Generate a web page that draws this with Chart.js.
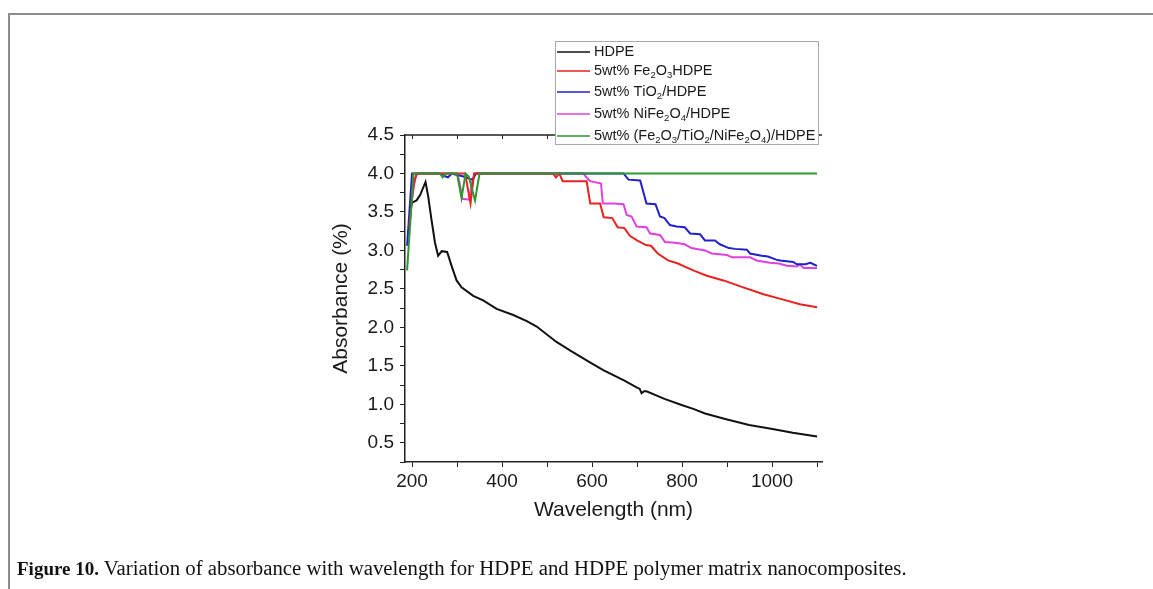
<!DOCTYPE html>
<html>
<head>
<meta charset="utf-8">
<script src="https://cdn.jsdelivr.net/npm/chart.js@4.4.1/dist/chart.umd.min.js"></script>
<style>
  html, body { margin: 0; padding: 0; background: #fff; }
  #wrap { position: absolute; left: 0; top: 0; width: 1153px; height: 589px; }
  #frame { position: absolute; left: 8px; top: 13px; width: 1145px; height: 576px;
           border-top: 2px solid #8c8c8c; border-left: 2px solid #8c8c8c; pointer-events: none; }
  #caption { position: absolute; left: 17px; top: 556px; font: 20.8px "Liberation Serif", "Times New Roman", serif;
             color: #111; white-space: nowrap; line-height: 24px; }
  #caption b { font-size: 19px; }
</style>
</head>
<body>
<div id="frame"></div>
<div id="wrap"><canvas id="absChart"></canvas></div>
<div id="caption"><b>Figure 10.</b> Variation of absorbance with wavelength for HDPE and HDPE polymer matrix nanocomposites.</div>
<script>
// tick positions and labels
const wavelengthTicks = [200, 300, 400, 500, 600, 700, 800, 900, 1000, 1100];
const wavelengthLabels = [200, 400, 600, 800, 1000];
const absorbanceTicks = [0.25, 0.5, 0.75, 1, 1.25, 1.5, 1.75, 2, 2.25, 2.5, 2.75, 3, 3.25, 3.5, 3.75, 4, 4.25, 4.5];
const absorbanceLabels = [0.5, 1, 1.5, 2, 2.5, 3, 3.5, 4, 4.5];

const seriesNames = ['HDPE', '5wt% Fe₂O₃HDPE', '5wt% TiO₂/HDPE', '5wt% NiFe₂O₄/HDPE', '5wt% (Fe₂O₃/TiO₂/NiFe₂O₄)/HDPE'];

// [wavelength nm, absorbance]
const hdpe = [
    [197, 3.55], [200, 3.62], [210, 3.65], [218, 3.72], [230, 3.89], [236, 3.70], [243, 3.41], [251, 3.10],
    [258, 2.93], [266, 2.99], [278, 2.98], [289, 2.78], [299, 2.61], [310, 2.52], [336, 2.41], [358, 2.35],
    [388, 2.24], [425, 2.16], [455, 2.08], [477, 2.01], [521, 1.81], [551, 1.70], [600, 1.53], [626, 1.44],
    [671, 1.31], [699, 1.22], [706, 1.20], [710, 1.145], [716, 1.17], [721, 1.17], [761, 1.07], [799, 0.99],
    [825, 0.94], [851, 0.88], [896, 0.81], [949, 0.73], [1001, 0.68], [1046, 0.63], [1100, 0.58]
];
const fe2o3 = [
    [194, 3.30], [203, 3.85], [210, 4.0], [318, 4.0], [330, 3.61], [338, 4.0], [513, 4.0], [520, 3.95],
    [527, 4.0], [535, 3.90], [588, 3.90], [596, 3.61], [618, 3.61], [626, 3.43], [645, 3.42], [657, 3.30],
    [672, 3.29], [684, 3.19], [700, 3.13], [720, 3.07], [731, 3.06], [746, 2.96], [769, 2.87], [791, 2.83],
    [806, 2.79], [829, 2.73], [855, 2.67], [892, 2.61], [936, 2.52], [981, 2.43], [1025, 2.36], [1062, 2.30],
    [1100, 2.26]
];
const tio2 = [
    [189, 3.06], [200, 4.0], [262, 4.0], [270, 3.97], [280, 3.95], [288, 4.0], [300, 3.98], [315, 3.96],
    [329, 3.93], [335, 3.92], [342, 4.0], [670, 4.0], [681, 3.92], [707, 3.91], [721, 3.61], [741, 3.60],
    [751, 3.44], [761, 3.42], [773, 3.33], [788, 3.31], [806, 3.30], [818, 3.22], [840, 3.21], [851, 3.13],
    [873, 3.13], [884, 3.08], [904, 3.03], [918, 3.02], [944, 3.01], [951, 2.96], [977, 2.93], [991, 2.92],
    [1009, 2.88], [1018, 2.87], [1047, 2.85], [1055, 2.82], [1074, 2.82], [1085, 2.84], [1092, 2.82], [1100, 2.80]
];
const nife2o4 = [
    [192, 3.20], [198, 3.60], [207, 3.93], [212, 4.0], [300, 4.0], [305, 3.90], [312, 3.67], [327, 3.66],
    [333, 3.88], [339, 4.0], [581, 4.0], [586, 3.96], [596, 3.90], [620, 3.87], [624, 3.61], [649, 3.61],
    [670, 3.60], [677, 3.46], [688, 3.44], [699, 3.31], [721, 3.30], [729, 3.22], [751, 3.20], [762, 3.11],
    [784, 3.10], [806, 3.08], [821, 3.03], [851, 3.00], [866, 2.96], [900, 2.94], [911, 2.91], [951, 2.91],
    [966, 2.87], [995, 2.84], [1015, 2.83], [1033, 2.80], [1055, 2.79], [1062, 2.82], [1070, 2.77], [1100, 2.77]
];
const mixed = [
    [189, 2.74], [196, 3.35], [203, 4.0], [262, 4.0], [268, 3.95], [275, 4.0], [300, 4.0], [310, 3.68],
    [319, 4.0], [326, 3.96], [340, 3.65], [350, 4.0], [1100, 4.0]
];

const seriesColors = ['#111111', '#e8221e', '#2020cc', '#e040e0', '#2e972e'];

const toPoints = arr => arr.map(([x, y]) => ({ x: x, y: y }));

// draws a label, turning unicode subscript digits into smaller lowered digits
function drawSubText(ctx, text, x, y) {
    const subs = '₀₁₂₃₄₅₆₇₈₉';
    ctx.textBaseline = 'middle';
    ctx.textAlign = 'left';
    for (const ch of text) {
        const k = subs.indexOf(ch);
        if (k >= 0) {
            ctx.font = '9.5px "Liberation Sans", Arial, sans-serif';
            ctx.fillText(String(k), x, y + 4);
            x += ctx.measureText(String(k)).width;
        } else {
            ctx.font = '14.5px "Liberation Sans", Arial, sans-serif';
            ctx.fillText(ch, x, y);
            x += ctx.measureText(ch).width;
        }
    }
}

const topAxis = {
    id: 'topAxis',
    afterDraw(chart) {
        const { ctx, chartArea } = chart;
        const x = chart.scales.x;
        ctx.save();
        ctx.strokeStyle = '#222';
        ctx.lineWidth = 1.5;
        ctx.beginPath();
        ctx.moveTo(chartArea.left, chartArea.top);
        ctx.lineTo(chartArea.right, chartArea.top);
        ctx.stroke();
        ctx.lineWidth = 1;
        wavelengthTicks.forEach(v => {
            const px = Math.round(x.getPixelForValue(v)) + 0.5;
            ctx.beginPath();
            ctx.moveTo(px, chartArea.top);
            ctx.lineTo(px, chartArea.top + 4);
            ctx.stroke();
        });
        ctx.restore();
    }
};

const boxLegend = {
    id: 'boxLegend',
    afterDraw(chart) {
        const ctx = chart.ctx;
        const rows = [52, 71, 92, 114, 136];
        ctx.save();
        ctx.fillStyle = '#fff';
        ctx.fillRect(555, 41, 263, 103);
        ctx.strokeStyle = '#aaaaaa';
        ctx.lineWidth = 1;
        ctx.strokeRect(555.5, 41.5, 263, 103);
        chart.data.datasets.forEach((ds, i) => {
            ctx.strokeStyle = ds.borderColor;
            ctx.lineWidth = 1.5;
            ctx.beginPath();
            ctx.moveTo(557, rows[i]);
            ctx.lineTo(590, rows[i]);
            ctx.stroke();
            ctx.fillStyle = '#1a1a1a';
            drawSubText(ctx, ds.label, 594, rows[i]);
        });
        ctx.restore();
    }
};

function noPad(scale) {
    scale.paddingTop = 0;
    scale.paddingBottom = 0;
    scale.paddingLeft = 0;
    scale.paddingRight = 0;
}

const allSeries = [hdpe, fe2o3, tio2, nife2o4, mixed];

new Chart(document.getElementById('absChart'), {
    type: 'line',
    data: {
        datasets: allSeries.map((s, i) => ({
            label: seriesNames[i],
            data: toPoints(s),
            borderColor: seriesColors[i],
            borderWidth: 2,
            pointRadius: 0,
            tension: 0,
            fill: false,
            order: i === 4 ? -1 : 0
        }))
    },
    options: {
        responsive: true,
        maintainAspectRatio: false,
        animation: false,
        layout: { padding: { left: 325, right: 331, top: 135, bottom: 62 } },
        plugins: {
            legend: { display: false },
            tooltip: { enabled: false }
        },
        scales: {
            x: {
                type: 'linear',
                min: 184.4,
                max: 1111,
                afterBuildTicks: s => { s.ticks = wavelengthTicks.map(v => ({ value: v })); },
                afterFit: s => { s.height = 65; noPad(s); },
                border: { color: '#222', width: 1.5 },
                grid: { drawOnChartArea: false, tickLength: 5, color: '#222', tickColor: '#222' },
                ticks: {
                    autoSkip: false,
                    maxRotation: 0,
                    padding: 3,
                    color: '#1a1a1a',
                    font: { family: '"Liberation Sans", Arial, sans-serif', size: 19 },
                    callback: v => wavelengthLabels.includes(v) ? String(v) : ''
                },
                title: {
                    display: true,
                    text: 'Wavelength (nm)',
                    color: '#1a1a1a',
                    padding: { top: 4, bottom: 4 },
                    font: { family: '"Liberation Sans", Arial, sans-serif', size: 21 }
                }
            },
            y: {
                min: 0.25,
                max: 4.5,
                afterBuildTicks: s => { s.ticks = absorbanceTicks.map(v => ({ value: v })); },
                afterFit: s => { s.width = 80; noPad(s); },
                border: { color: '#222', width: 1.5 },
                grid: { drawOnChartArea: false, tickLength: 5, color: '#222', tickColor: '#222' },
                ticks: {
                    autoSkip: false,
                    padding: 6,
                    color: '#1a1a1a',
                    font: { family: '"Liberation Sans", Arial, sans-serif', size: 19 },
                    callback: v => absorbanceLabels.some(l => Math.abs(l - v) < 1e-6) ? v.toFixed(1) : ''
                },
                title: {
                    display: true,
                    text: 'Absorbance (%)',
                    color: '#1a1a1a',
                    padding: { top: 4, bottom: 4 },
                    font: { family: '"Liberation Sans", Arial, sans-serif', size: 21 }
                }
            }
        }
    },
    plugins: [topAxis, boxLegend]
});
</script>
</body>
</html>
